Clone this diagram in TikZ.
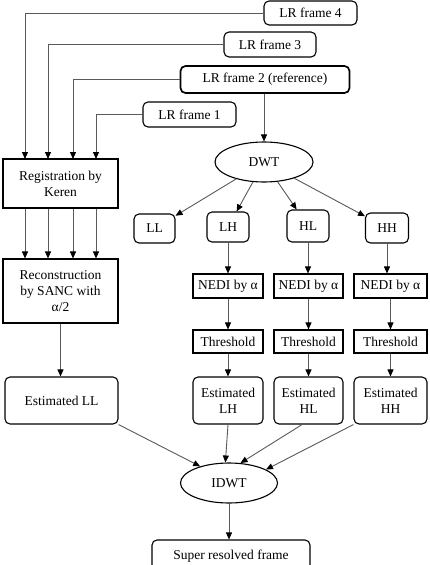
\documentclass[tikz,border=0pt]{standalone}
\usepackage{fontspec}
\setmainfont{Liberation Serif}
\usetikzlibrary{shapes.geometric,arrows.meta}

\tikzset{
box/.style={draw, line width=1.1pt, inner sep=1pt, align=center, font=\fontsize{13.5}{16}\selectfont},
rbox/.style={box, rounded corners=5pt},
oval/.style={box, ellipse},
link/.style={draw=black!65, line width=0.9pt, -{Triangle[black,length=7pt,width=6pt]}}
}

\begin{document}
\begin{tikzpicture}[x=1pt,y=1pt,yscale=-1]
\useasboundingbox (0,0) rectangle (429,565);
\clip (0,0) rectangle (429,565);

% low resolution inputs
\node[rbox, minimum width=93pt, minimum height=24pt] (f4) at (310.5,13) {LR frame 4};
\node[rbox, minimum width=92pt, minimum height=25pt] (f3) at (270,44.5) {LR frame 3};
\node[rbox, line width=1.7pt, minimum width=169pt, minimum height=27pt] (f2) at (265,79.5) {LR frame 2 (reference)};
\node[rbox, minimum width=93pt, minimum height=25pt] (f1) at (189.5,114.5) {LR frame 1};

% left branch
\node[box, minimum width=115pt, minimum height=49pt] (reg) at (60.5,183.5) {Registration by\\Keren};
\node[box, minimum width=115pt, minimum height=64pt] (rec) at (60.5,291) {Reconstruction\\by SANC with\\α/2};
\node[rbox, minimum width=113pt, minimum height=47pt] (estll) at (61.5,400.5) {Estimated LL};

% wavelet branch
\node[oval, minimum width=98pt, minimum height=40pt] (dwt) at (264,162) {DWT};
\node[rbox, minimum width=41pt, minimum height=29pt] (ll) at (154.5,228.5) {LL};
\node[rbox, minimum width=42pt, minimum height=30pt] (lh) at (228,227) {LH};
\node[rbox, minimum width=42pt, minimum height=32pt] (hl) at (308,226) {HL};
\node[rbox, minimum width=43pt, minimum height=30pt] (hh) at (387,228) {HH};

\node[box, minimum width=70pt, minimum height=24pt] (nedilh) at (228,286) {NEDI by α};
\node[box, minimum width=69pt, minimum height=24pt] (nedihl) at (308.5,286) {NEDI by α};
\node[box, minimum width=73pt, minimum height=24pt] (nedihh) at (390.5,286) {NEDI by α};

\node[box, minimum width=70pt, minimum height=23pt] (thrlh) at (228,341.5) {Threshold};
\node[box, minimum width=69pt, minimum height=23pt] (thrhl) at (308.5,341.5) {Threshold};
\node[box, minimum width=73pt, minimum height=23pt] (thrhh) at (390.5,341.5) {Threshold};

\node[rbox, minimum width=70pt, minimum height=47pt] (estlh) at (228,400.5) {Estimated\\LH};
\node[rbox, minimum width=69pt, minimum height=47pt] (esthl) at (308.5,400.5) {Estimated\\HL};
\node[rbox, minimum width=73pt, minimum height=47pt] (esthh) at (390.5,400.5) {Estimated\\HH};

% output
\node[oval, minimum width=97pt, minimum height=40pt] (idwt) at (229,483) {IDWT};
\node[rbox, minimum width=158pt, minimum height=32pt] (sr) at (231,556) {Super resolved frame};

% entry points on the registration box
\coordinate (in4) at (25,159);
\coordinate (in3) at (48,159);
\coordinate (in2) at (73,159);
\coordinate (in1) at (96,159);

\foreach \k in {1,...,4} {
  \draw[link] (f\k.west) -| (in\k);
  \draw[link] (reg.south -| in\k) -- (rec.north -| in\k);
}
\draw[link] (rec.south) -- (rec.south |- estll.north);

\draw[link] (f2.south -| dwt) -- (dwt);
\foreach \b in {ll,lh,hl,hh}
  \draw[link] (dwt) -- (\b);
\foreach \b in {lh,hl,hh} {
  \draw[link] (\b.south) -- (\b.south |- nedi\b.north);
  \draw[link] (nedi\b) -- (thr\b);
  \draw[link] (thr\b) -- (est\b);
}

\draw[link] (estll.south east) -- (idwt.150);
\draw[link] (estlh.south) -- (idwt.100);
\draw[link] (esthl.-105) -- (idwt.60);
\draw[link] (esthh.south west) -- (idwt.20);
\draw[link] (idwt) -- (idwt |- sr.north);

\end{tikzpicture}
\end{document}
